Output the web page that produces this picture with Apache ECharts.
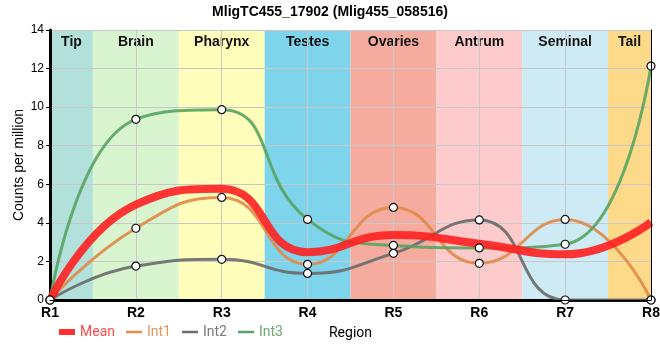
<!DOCTYPE html>
<html><head><meta charset="utf-8">
<script src="https://cdn.jsdelivr.net/npm/echarts@6/dist/echarts.min.js"></script>
<style>html,body{margin:0;padding:0;background:#fff}#c{width:660px;height:360px}</style>
</head><body><div id="c"></div>
<script>
var categories = ['R1','R2','R3','R4','R5','R6','R7','R8'];
var bandNames = ['Tip','Brain','Pharynx','Testes','Ovaries','Antrum','Seminal','Tail'];
var bandColors = ['#b2e1dc','#d8f5d0','#fefeba','#7dd4eb','#f5ab9e','#fdcbcc','#ceebf5','#fdd98a'];
var mean = [0, 4.95, 5.77, 2.48, 3.37, 2.92, 2.37, 4.03];
var int1 = [0, 3.72, 5.32, 1.85, 4.80, 1.90, 4.18, 0];
var int2 = [0, 1.76, 2.11, 1.38, 2.42, 4.15, 0, 0];
var int3 = [0, 9.37, 9.87, 4.18, 2.83, 2.70, 2.89, 12.13];
var yTicks = [0,2,4,6,8,10,12,14];

function pts(arr){ return arr.map(function(v,i){ return [i+1, v]; }); }
var areas = bandNames.map(function(n,i){
  return [{name:n, xAxis: Math.max(1, i+0.5), itemStyle:{color:bandColors[i]}}, {xAxis: Math.min(8, i+1.5)}];
});
var chart = echarts.init(document.getElementById('c'));
var ff = '"Liberation Sans", Arial, sans-serif';
function lineSeries(name, data, color, width, marks){
  var s = {name:name, type:'line', data:pts(data), smooth:0.5, z:3,
    lineStyle:{color:color, width:width, opacity:0.9},
    itemStyle:{color:color}, emphasis:{disabled:true}, animation:false};
  if (marks){ s.symbol='circle'; s.symbolSize=8; s.itemStyle={color:'#fff', borderColor:'#111', borderWidth:1.2}; s.showSymbol=true; }
  else { s.showSymbol=false; s.symbol='none'; }
  return s;
}
var option = {
  animation:false,
  title:{text:'MligTC455_17902 (Mlig455_058516)', left:'center', top:0, textStyle:{fontFamily:ff, fontSize:14, fontWeight:'bold', color:'#000'}},
  grid:{left:50, right:9, top:30, bottom:60, outerBoundsMode:'none', containLabel:false},
  legend:{left:54, top:320, itemGap:11, itemWidth:16, itemHeight:6,
    itemStyle:{borderWidth:0},
    data:[
      {name:'Mean', icon:'rect', itemStyle:{color:'#ff3030', borderWidth:0}, textStyle:{color:'#ff4848'}},
      {name:'Int1', icon:'path://M0,0 H16 V2.5 H0 Z', itemStyle:{color:'#e38d4f', borderWidth:0}, textStyle:{color:'#e8955a'}},
      {name:'Int2', icon:'path://M0,0 H16 V2.5 H0 Z', itemStyle:{color:'#6e6e6e', borderWidth:0}, textStyle:{color:'#7a7a7a'}},
      {name:'Int3', icon:'path://M0,0 H16 V2.5 H0 Z', itemStyle:{color:'#5aa564', borderWidth:0}, textStyle:{color:'#6aac72'}}
    ],
    textStyle:{fontFamily:'Roboto, sans-serif', fontSize:14}},
  xAxis:[{type:'value', min:1, max:8, interval:1, z:2,
    name:'Region', nameLocation:'middle', nameGap:26, nameMoveOverlap:false, nameTextStyle:{fontFamily:'Roboto, sans-serif', fontSize:14, color:'#000'},
    axisLine:{show:true, onZero:false, lineStyle:{color:'#000', width:3}},
    axisTick:{show:false},
    axisLabel:{formatter:function(v){return categories[v-1];}, fontFamily:ff, fontWeight:'bold', fontSize:14, color:'#000', margin:6},
    splitLine:{show:true, lineStyle:{color:'#c8c8c8', width:1}}},
    {type:'value', position:'top', min:1, max:8, z:4, axisLine:{show:true, lineStyle:{color:'#000', width:1}}, axisTick:{show:false}, axisLabel:{show:false}, splitLine:{show:false}}],
  yAxis:[{type:'value', min:0, max:14, interval:2, z:2,
    name:'Counts per million', nameLocation:'middle', nameGap:24, nameMoveOverlap:false, nameTextStyle:{fontFamily:ff, fontSize:14, color:'#000'},
    axisLine:{show:true, onZero:false, lineStyle:{color:'#000', width:3}},
    axisTick:{show:true, length:4, lineStyle:{color:'#000'}},
    axisLabel:{fontFamily:ff, fontSize:12, color:'#000', margin:6, formatter:function(v){return yTicks.indexOf(v)>=0? String(v):'';}},
    splitLine:{show:true, lineStyle:{color:'#c8c8c8', width:1}}},
    {type:'value', position:'right', min:0, max:14, z:4, axisLine:{show:true, lineStyle:{color:'#000', width:1}}, axisTick:{show:false}, axisLabel:{show:false}, splitLine:{show:false}}],
  series:[
    {type:'line', data:[], z:1, silent:true,
      markArea:{silent:true, z:1, label:{show:true, position:'insideTop', distance:5, fontFamily:ff, fontWeight:'bold', fontSize:14, color:'#111'}, data:areas}},
    lineSeries('Int1', int1, '#e08a48', 3, true),
    lineSeries('Int2', int2, '#6a6a6a', 3, true),
    lineSeries('Int3', int3, '#58a362', 3, true),
    lineSeries('Mean', mean, '#ff2020', 8, false)
  ]
};
chart.setOption(option);
</script></body></html>
